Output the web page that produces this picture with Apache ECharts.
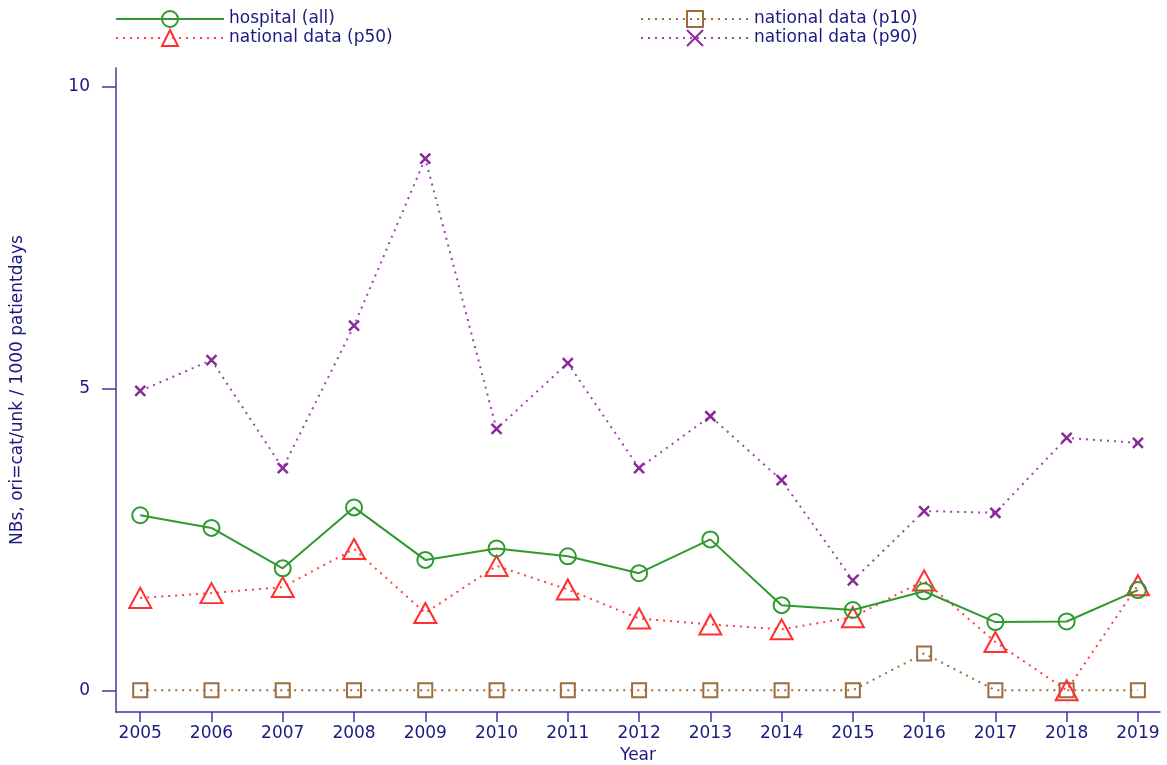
<!DOCTYPE html>
<html>
<head>
<meta charset="utf-8">
<script src="https://cdn.jsdelivr.net/npm/echarts@6/dist/echarts.min.js"></script>
<style>
  html, body { margin: 0; padding: 0; background: #fff; }
  #chart { width: 1167px; height: 765px; }
</style>
</head>
<body>
<div id="chart"></div>
<script>
const years = [2005, 2006, 2007, 2008, 2009, 2010, 2011, 2012, 2013, 2014, 2015, 2016, 2017, 2018, 2019];
const hospitalAll = [2.90, 2.69, 2.02, 3.03, 2.16, 2.35, 2.22, 1.94, 2.50, 1.41, 1.33, 1.64, 1.13, 1.14, 1.66];
const nationalP10 = [0, 0, 0, 0, 0, 0, 0, 0, 0, 0, 0, 0.61, 0, 0, 0];
const nationalP50 = [1.53, 1.61, 1.71, 2.34, 1.28, 2.06, 1.67, 1.19, 1.09, 1.01, 1.21, 1.82, 0.80, 0, 1.74];
const nationalP90 = [4.96, 5.47, 3.68, 6.04, 8.81, 4.33, 5.42, 3.68, 4.54, 3.48, 1.82, 2.97, 2.94, 4.18, 4.10];
const yTicks = [0, 5, 10];

const axisColor = "#3a3aa6";
const labelColor = "#1a1a80";
const font = "DejaVu Sans, sans-serif";

const chart = echarts.init(document.getElementById("chart"));

const pairs = vals => years.map((y, i) => [y, vals[i]]);

const legendBase = {
  orient: "vertical",
  top: 10,
  padding: 0,
  itemWidth: 108,
  itemHeight: 20,
  itemGap: 1,
  textStyle: { color: labelColor, fontSize: 17, fontFamily: font }
};

const option = {
  animation: false,
  grid: { left: 116, right: 7, top: 68, bottom: 53, containLabel: false, outerBoundsMode: "none" },
  legend: [
    Object.assign({}, legendBase, { left: 115, data: ["hospital (all)", "national data (p50)"] }),
    Object.assign({}, legendBase, { left: 640, data: ["national data (p10)", "national data (p90)"] })
  ],
  xAxis: {
    type: "value",
    min: 2004.66,
    max: 2019.31,
    name: "Year",
    nameLocation: "middle",
    nameGap: 34,
    nameTextStyle: { color: labelColor, fontSize: 17, fontFamily: font },
    splitLine: { show: false },
    axisLine: { show: true, onZero: false, lineStyle: { color: axisColor, width: 1.5 } },
    axisTick: { show: true, length: 10, lineStyle: { color: axisColor, width: 1.5 }, customValues: years },
    axisLabel: {
      color: labelColor, fontSize: 17, fontFamily: font, margin: 13,
      customValues: years, formatter: v => String(v)
    }
  },
  yAxis: {
    type: "value",
    min: -0.36,
    max: 10.31,
    name: "NBs, ori=cat/unk / 1000 patientdays",
    nameLocation: "middle",
    nameGap: 90,
    nameTextStyle: { color: labelColor, fontSize: 17, fontFamily: font },
    splitLine: { show: false },
    axisLine: { show: true, onZero: false, lineStyle: { color: axisColor, width: 1.5 } },
    axisTick: { show: true, length: 14, lineStyle: { color: axisColor, width: 1.5 }, customValues: yTicks },
    axisLabel: {
      color: labelColor, fontSize: 17, fontFamily: font, margin: 26,
      customValues: yTicks, formatter: v => String(v)
    }
  },
  series: [
    {
      name: "hospital (all)",
      type: "line",
      data: pairs(hospitalAll),
      symbol: "circle",
      symbolSize: 16,
      z: 4,
      lineStyle: { color: "#2e9a2e", width: 2, type: "solid" },
      itemStyle: { color: "rgba(0,0,0,0)", borderColor: "#2e9a2e", borderWidth: 2 }
    },
    {
      name: "national data (p50)",
      type: "line",
      data: pairs(nationalP50),
      symbol: "triangle",
      symbolSize: [22, 20],
      z: 3,
      lineStyle: { color: "#ff4040", width: 2, type: [2, 5] },
      itemStyle: { color: "rgba(0,0,0,0)", borderColor: "#ff3030", borderWidth: 2 }
    },
    {
      name: "national data (p10)",
      type: "line",
      data: pairs(nationalP10),
      symbol: "rect",
      symbolSize: 14,
      z: 2,
      lineStyle: { color: "#9c6c3c", width: 2, type: [2, 5] },
      itemStyle: { color: "rgba(0,0,0,0)", borderColor: "#9c6c3c", borderWidth: 2 }
    },
    {
      name: "national data (p90)",
      type: "line",
      data: pairs(nationalP90),
      symbol: "path://M0,0L10,10M10,0L0,10",
      symbolSize: 10,
      z: 2,
      lineStyle: { color: "#a040b0", width: 2, type: [2, 5] },
      itemStyle: { color: "rgba(0,0,0,0)", borderColor: "#8a2a9a", borderWidth: 2.5 }
    }
  ]
};

chart.setOption(option);
</script>
</body>
</html>
